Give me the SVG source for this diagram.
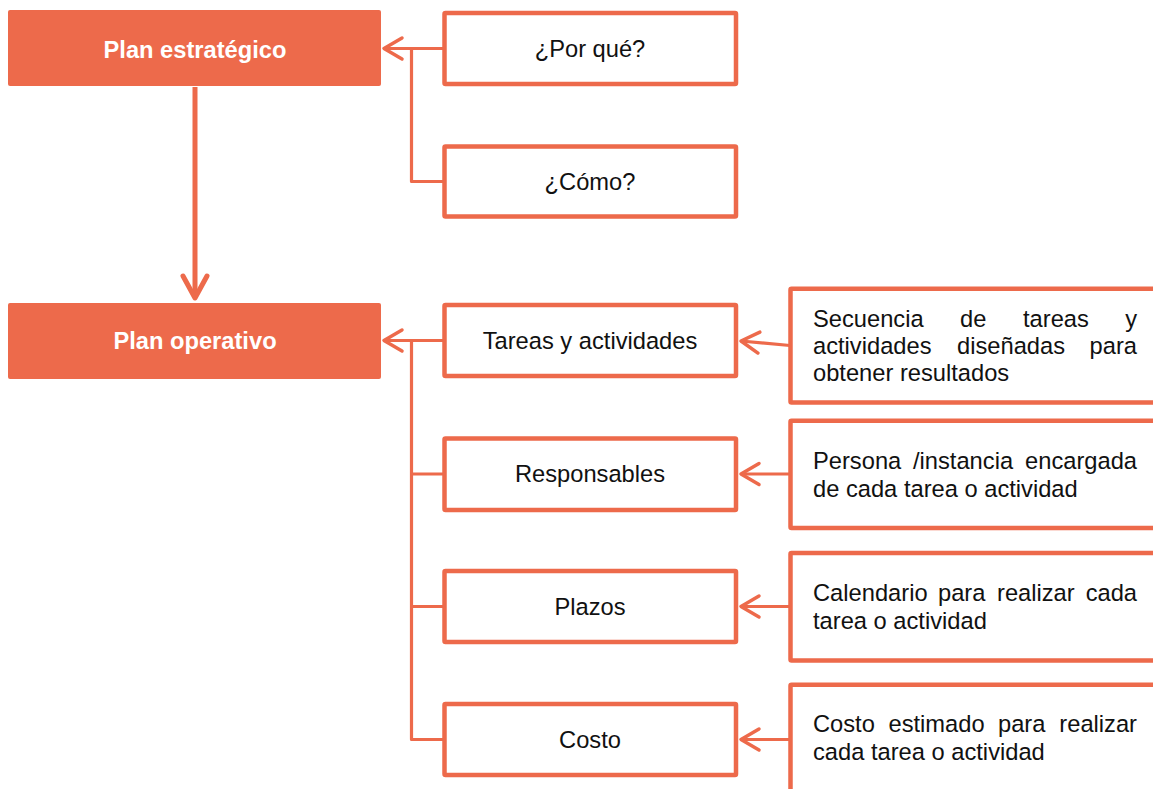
<svg xmlns="http://www.w3.org/2000/svg" width="1153" height="789" viewBox="0 0 1153 789">
<defs>
<style>
.solid{fill:#ED6A4B;stroke:none}
.box{fill:#fff;stroke:#ED6A4B;stroke-width:4.5}
.desc{fill:#fff;stroke:#ED6A4B;stroke-width:4.5}
.wt{font-family:"Liberation Sans",Arial,sans-serif;font-size:23.7px;font-weight:bold;fill:#fff;text-anchor:middle}
.t{font-family:"Liberation Sans",Arial,sans-serif;font-size:23.7px;fill:#111;text-anchor:middle}
.d{font-family:"Liberation Sans",Arial,sans-serif;font-size:23.7px;fill:#111}
.c{fill:none;stroke:#ED6A4B;stroke-width:3.2;stroke-linejoin:round}
.a{fill:none;stroke:#ED6A4B;stroke-width:5;stroke-linecap:round;stroke-linejoin:round}
</style>
<marker id="ah" viewBox="0 0 24 24" refX="21" refY="12" markerWidth="24" markerHeight="24" markerUnits="userSpaceOnUse" orient="auto" overflow="visible">
<path d="M3,1.5 L21,12 L3,22.5" fill="none" stroke="#ED6A4B" stroke-width="3.5" stroke-linecap="round" stroke-linejoin="round"/>
</marker>
</defs>

<g id="connectors">
<path class="c" d="M444,48.5 H384" marker-end="url(#ah)"/>
<path class="c" d="M411.5,48.5 V181.5 H444"/>
<path class="c" d="M444,340.5 H384" marker-end="url(#ah)"/>
<path class="c" d="M411.5,340.5 V739.5 H444 M411.5,474 H444 M411.5,606.5 H444"/>
<path class="c" d="M790,345.5 L741,341" marker-end="url(#ah)"/>
<path class="c" d="M790,474 H741" marker-end="url(#ah)"/>
<path class="c" d="M790,606.5 H741" marker-end="url(#ah)"/>
<path class="c" d="M790,739.5 H741" marker-end="url(#ah)"/>
<path d="M195,87 V296" fill="none" stroke="#ED6A4B" stroke-width="5"/>
<path class="a" d="M183,276 L195,298 L207,276"/>
</g>

<g id="plan-estrategico">
<rect class="solid" x="8" y="10" width="373" height="76" rx="2"/>
<text class="wt" x="195" y="58">Plan estratégico</text>
</g>
<g id="plan-operativo">
<rect class="solid" x="8" y="303" width="373" height="76" rx="2"/>
<text class="wt" x="195" y="349">Plan operativo</text>
</g>

<g id="por-que">
<rect class="box" x="444.5" y="13" width="291.5" height="71" rx="1"/>
<text class="t" x="590" y="57">¿Por qué?</text>
</g>
<g id="como">
<rect class="box" x="444.5" y="146.5" width="291.5" height="70" rx="1"/>
<text class="t" x="590" y="190">¿Cómo?</text>
</g>
<g id="tareas">
<rect class="box" x="444.5" y="305" width="291.5" height="71" rx="1"/>
<text class="t" x="590" y="349">Tareas y actividades</text>
</g>
<g id="responsables">
<rect class="box" x="444.5" y="438.5" width="291.5" height="71.5" rx="1"/>
<text class="t" x="590" y="482">Responsables</text>
</g>
<g id="plazos">
<rect class="box" x="444.5" y="571" width="291.5" height="71" rx="1"/>
<text class="t" x="590" y="615">Plazos</text>
</g>
<g id="costo">
<rect class="box" x="444.5" y="704" width="291.5" height="71" rx="1"/>
<text class="t" x="590" y="748">Costo</text>
</g>

<g id="desc-tareas">
<rect class="desc" x="790.5" y="288.7" width="380" height="113.8" rx="1"/>
<text class="d"><tspan x="813" y="327">Secuencia</tspan><tspan x="960" y="327">de</tspan><tspan x="1023" y="327">tareas</tspan><tspan x="1137" y="327" text-anchor="end">y</tspan></text>
<text class="d"><tspan x="813" y="354">actividades</tspan><tspan x="957" y="354">diseñadas</tspan><tspan x="1137" y="354" text-anchor="end">para</tspan></text>
<text class="d" x="813" y="381">obtener resultados</text>
</g>
<g id="desc-responsables">
<rect class="desc" x="790.5" y="420.7" width="380" height="107.3" rx="1"/>
<text class="d"><tspan x="813" y="469">Persona</tspan><tspan x="913" y="469">/instancia</tspan><tspan x="1137" y="469" text-anchor="end">encargada</tspan></text>
<text class="d" x="813" y="497">de cada tarea o actividad</text>
</g>
<g id="desc-plazos">
<rect class="desc" x="790.5" y="553" width="380" height="107.5" rx="1"/>
<text class="d"><tspan x="813" y="601">Calendario</tspan><tspan x="938" y="601">para</tspan><tspan x="997" y="601">realizar</tspan><tspan x="1137" y="601" text-anchor="end">cada</tspan></text>
<text class="d" x="813" y="629">tarea o actividad</text>
</g>
<g id="desc-costo">
<rect class="desc" x="790.5" y="684.7" width="380" height="120" rx="1"/>
<text class="d"><tspan x="813" y="732">Costo</tspan><tspan x="888.5" y="732">estimado</tspan><tspan x="998" y="732">para</tspan><tspan x="1137" y="732" text-anchor="end">realizar</tspan></text>
<text class="d" x="813" y="760">cada tarea o actividad</text>
</g>
</svg>
